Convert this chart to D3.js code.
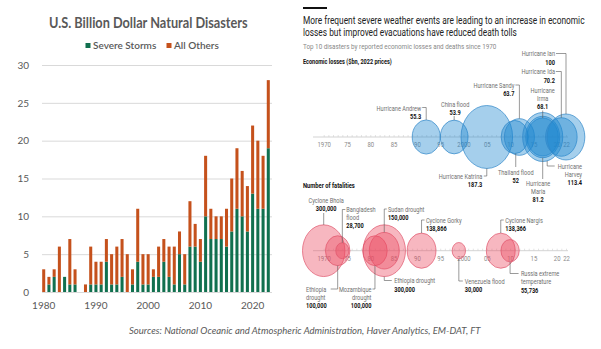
<!DOCTYPE html>
<html><head><meta charset="utf-8">
<script src="https://cdn.jsdelivr.net/npm/d3@7"></script>
<style>body{margin:0;background:#fff}svg{display:block}</style>
</head><body>
<svg id="c" width="601" height="349"></svg>
<script>
// ---------- Left chart data ----------
const years = [1980,1981,1982,1983,1984,1985,1986,1987,1988,1989,1990,1991,1992,1993,1994,1995,1996,1997,1998,1999,2000,2001,2002,2003,2004,2005,2006,2007,2008,2009,2010,2011,2012,2013,2014,2015,2016,2017,2018,2019,2020,2021,2022,2023];
const severeStorms = [0,1,2,0,2,1,1,0,0,1,1,1,4,1,1,2,0,1,4,1,1,2,2,4,2,1,5,1,6,6,4,10,7,7,7,6,8,11,10,8,13,11,11,19];
const allOthers    = [3,1,1,6,0,6,2,0,1,5,3,3,3,4,5,5,5,2,7,4,4,1,4,3,4,5,3,4,6,3,3,8,4,3,3,5,7,8,6,6,9,9,7,9];
const yTicks = [0,5,10,15,20,25,30];
const xTickYears = [1980,1990,2000,2010,2020];
const seriesNames = ["Severe Storms","All Others"];

// ---------- Right chart data ----------
const lossEvents = ["Hurricane Andrew","China flood","Hurricane Katrina","Thailand flood","Hurricane Sandy","Hurricane Irma","Hurricane Maria","Hurricane Harvey","Hurricane Ida","Hurricane Ian"];
const lossYears  = [1992,1998,2005,2011,2012,2017,2017,2017,2021,2022];
const lossValues = [55.3,53.9,187.3,52,63.7,68.1,81.2,113.4,70.2,100];

const fatalEvents = ["Cyclone Bhola","Ethiopia drought","Bangladesh flood","Mozambique drought","Sudan drought","Ethiopia drought","Cyclone Gorky","Venezuela flood","Cyclone Nargis","Russia extreme temperature"];
const fatalYears  = [1970,1973,1974,1981,1983,1983,1991,1999,2008,2010];
const fatalValues = [300000,100000,28700,100000,150000,300000,138866,30000,138366,55736];

const axisTickYears  = [1970,1975,1980,1985,1990,1995,2000,2005,2010,2015,2020,2022];
const axisTickLabels = ["1970","75","80","85","90","95","2000","05","10","15","20","22"];

const svg = d3.select("#c");
const GREEN = "#11704f", ORANGE = "#c5511c", GREY = "#595959";

// ================= LEFT CHART =================
const L = svg.append("g").attr("font-family","Lato, 'Open Sans', sans-serif");
const x = d3.scaleBand().domain(years).range([40,272]).padding(0.42);
const y = d3.scaleLinear().domain([0,30]).range([292,65]);

L.append("g").attr("transform","translate(42,0)")
  .call(d3.axisLeft(y).tickValues(yTicks).tickSize(-230).tickPadding(13))
  .call(g=>{g.select(".domain").remove();
    g.selectAll(".tick line").attr("stroke","#d9d9d9").attr("stroke-width",1);
    g.selectAll(".tick text").attr("fill",GREY).attr("font-size",10).attr("font-family","Lato, sans-serif");});

L.append("g").attr("transform","translate(0,292)")
  .call(d3.axisBottom(x).tickValues(xTickYears).tickSize(0).tickPadding(9.5))
  .call(g=>{g.select(".domain").remove();
    g.selectAll(".tick text").attr("fill",GREY).attr("font-size",10).attr("font-family","Lato, sans-serif");});

const table = years.map((yr,i)=>({year:yr, storms:severeStorms[i], others:allOthers[i]}));
const stack = d3.stack().keys(["storms","others"])(table);
const colors = [GREEN, ORANGE];
L.append("g").selectAll("g").data(stack).join("g").attr("fill",(d,i)=>colors[i])
  .selectAll("rect").data(d=>d).join("rect")
  .attr("x",d=>x(d.data.year)).attr("width",x.bandwidth())
  .attr("y",d=>y(d[1])).attr("height",d=>y(d[0])-y(d[1]));

// fit a text to a target width by horizontal scaling (keeps real bbox)
function fitText(sel, x0, y0, width){
  const w = sel.node().getComputedTextLength();
  sel.attr("x",0).attr("y",0).attr("transform",`translate(${x0},${y0}) scale(${width/w},1)`);
}

fitText(L.append("text").attr("font-size",14.5).attr("font-weight",700).attr("fill",GREY)
  .text("U.S. Billion Dollar Natural Disasters"), 49, 28, 199);

const leg = L.append("g");
const legX = [85.5,166.5];
seriesNames.forEach((n,i)=>{
  leg.append("rect").attr("x",legX[i]).attr("y",43).attr("width",5).attr("height",5).attr("fill",colors[i]);
  leg.append("text").attr("x",legX[i]+7.5).attr("y",49).attr("font-size",10).attr("fill",GREY)
    .attr("font-weight",600).text(n);
});

const src = svg.append("text").attr("text-anchor","start")
  .attr("font-family","Lato, sans-serif").attr("font-style","italic").attr("font-size",10).attr("fill",GREY)
  .text("Sources: National Oceanic and Atmospheric Administration, Haver Analytics, EM-DAT, FT");
fitText(src, 129, 334, 352);

// ================= RIGHT CHART =================
const R = svg.append("g").attr("font-family","Roboto, 'Open Sans', sans-serif");
R.append("rect").attr("x",303).attr("y",7).attr("width",24).attr("height",2).attr("fill","#111");
fitText(R.append("text").attr("font-size",11).attr("fill","#222")
  .text("More frequent severe weather events are leading to an increase in economic"), 303, 24, 282);
fitText(R.append("text").attr("font-size",11).attr("fill","#222")
  .text("losses but improved evacuations have reduced death tolls"), 303, 36, 214);
fitText(R.append("text").attr("font-size",7.5).attr("fill","#888")
  .text("Top 10 disasters by reported economic losses and deaths since 1970"), 303, 49, 194);
fitText(R.append("text").attr("font-size",6.8).attr("font-weight",700).attr("fill","#111")
  .text("Economic losses ($bn, 2022 prices)"), 303, 64, 89);
fitText(R.append("text").attr("font-size",6.8).attr("font-weight",700).attr("fill","#111")
  .text("Number of fatalities"), 303, 188, 52);

const xr = d3.scaleLinear().domain([1970,2022]).range([323.7,566]);
const AX1 = 137, AX2 = 250.7, STRETCH = 1.22;
const rLoss = d3.scaleSqrt().domain([0,187.3]).range([0,25.8]);
const rFat  = d3.scaleSqrt().domain([0,300000]).range([0,21.2]);

function drawAxis(yPos){
  const g = R.append("g").attr("transform",`translate(0,${yPos})`);
  g.append("line").attr("x1",313).attr("x2",568).attr("stroke","#c8c8c8").attr("stroke-width",0.8);
  g.append("g").call(d3.axisTop(xr).tickValues(d3.range(1970,2023)).tickSize(2).tickFormat(""))
    .call(a=>{a.select(".domain").remove(); a.selectAll("line").attr("stroke","#d0d0d0").attr("stroke-width",0.6);});
  g.append("g").call(d3.axisBottom(xr).tickValues(axisTickYears).tickSize(0).tickPadding(5)
      .tickFormat((d,i)=>axisTickLabels[i]))
    .call(a=>{a.select(".domain").remove();
      a.selectAll("text").attr("font-size",7).attr("fill","#8a8a8a").attr("font-family","Roboto, sans-serif");});
}
drawAxis(AX1); drawAxis(AX2);

// bubbles
R.append("g").selectAll("ellipse").data(lossValues).join("ellipse")
  .attr("cx",(d,i)=>xr(lossYears[i])).attr("cy",AX1)
  .attr("rx",d=>rLoss(d)).attr("ry",d=>rLoss(d)*STRETCH)
  .attr("fill","#1f87d0").attr("fill-opacity",0.4).attr("stroke","#2f86c8").attr("stroke-width",0.7);
R.append("g").selectAll("ellipse").data(fatalValues).join("ellipse")
  .attr("cx",(d,i)=>xr(fatalYears[i])).attr("cy",AX2)
  .attr("rx",d=>rFat(d)).attr("ry",d=>rFat(d)*STRETCH)
  .attr("fill","#ec4a62").attr("fill-opacity",0.4).attr("stroke","#e0556b").attr("stroke-width",0.7);

// annotation layout (label placement only)
const lossAnn = [
  {side:"t", ly:107.5, hx:-4, tx:-5, anchor:"end", lines:["Hurricane Andrew"], bl:[110.5,118.5]},
  {side:"t", ly:116, tx:1, anchor:"middle", lines:["China flood"], bl:[106.5,114.5]},
  {side:"b", ly:176, hx:-3, tx:-4.5, anchor:"end", lines:["Hurricane Katrina"], bl:[178.5,187]},
  {side:"b", ly:167, lx:1, tx:1, anchor:"middle", lines:["Thailand flood"], bl:[174.5,183]},
  {side:"t", ly:85, hx:-4, tx:-5, anchor:"end", lines:["Hurricane Sandy"], bl:[87.5,95.5]},
  {side:"t", ly:110.5, tx:0, anchor:"middle", lines:["Hurricane","Irma"], bl:[92.5,100.5,108.5]},
  {side:"b", ly:179, tx:-4.5, anchor:"middle", lines:["Hurricane","Maria"], bl:[185.5,193.5,202]},
  {side:"b", ly:166, lx:4.5, hx:12, tx:39.3, anchor:"end", lines:["Hurricane","Harvey"], bl:[168.5,176.5,185]},
  {side:"t", ly:71.5, hx:-5.5, tx:-6.4, anchor:"end", lines:["Hurricane Ida"], bl:[74,82.5]},
  {side:"t", ly:53.5, hx:-10, tx:-11, anchor:"end", lines:["Hurricane Ian"], bl:[56,64.5]}
];
const fatalAnn = [
  {side:"t", ly:213, tx:2.5, anchor:"middle", lines:["Cyclone Bhola"], bl:[202.5,211]},
  {side:"b", ly:289, hx:-7, tx:-31.7, anchor:"start", lines:["Ethiopia","drought"], bl:[291.5,299.5,308]},
  {side:"t", ly:209.5, hx:3, tx:4, anchor:"start", lines:["Bangladesh","flood"], bl:[212,219.5,228]},
  {side:"b", ly:289, hx:-2.5, tx:-3.5, anchor:"end", lines:["Mozambique","drought"], bl:[291.5,299.5,308]},
  {side:"t", ly:209, hx:2.5, tx:3.6, anchor:"start", lines:["Sudan drought"], bl:[211.5,219.5]},
  {side:"b", ly:280.5, hx:7.5, tx:10, anchor:"start", lines:["Ethiopia drought"], bl:[283,291.5]},
  {side:"t", ly:220, hx:3, tx:4.4, anchor:"start", lines:["Cyclone Gorky"], bl:[222.5,231]},
  {side:"b", ly:281, hx:4, tx:6, anchor:"start", lines:["Venezuela flood"], bl:[283.5,292]},
  {side:"t", ly:220, hx:3, tx:4.6, anchor:"start", lines:["Cyclone Nargis"], bl:[222.5,231]},
  {side:"b", ly:273.5, hx:8.5, tx:10.8, anchor:"start", lines:["Russia extreme","temperature"], bl:[276,284,292.5]}
];
const fmt = d3.format(",");
function annotate(ann, yrs, vals, rs, axY, valFmt){
  const g = R.append("g");
  ann.forEach((a,i)=>{
    const cx = xr(yrs[i]);
    const lx = cx + (a.lx||0);
    const rx = rs(vals[i]), ry = rx*STRETCH;
    const dxr = Math.min(1,Math.abs(a.lx||0)/rx);
    const edge = ry*Math.sqrt(1-dxr*dxr);
    const y0 = a.side==="t" ? axY-edge : axY+edge;
    let p = `M${lx},${y0}L${lx},${a.ly}`;
    if(a.hx!==undefined) p += `L${cx+a.hx},${a.ly}`;
    g.append("path").attr("d",p).attr("fill","none").attr("stroke","#555").attr("stroke-width",0.6);
    a.lines.forEach((t,j)=>{
      g.append("text").attr("class","lab").attr("x",cx+a.tx).attr("y",a.bl[j]).attr("text-anchor",a.anchor)
        .attr("font-size",7).attr("fill","#707070").text(t);
    });
    g.append("text").attr("class","lab").attr("x",cx+a.tx).attr("y",a.bl[a.lines.length]).attr("text-anchor",a.anchor)
      .attr("font-size",7).attr("font-weight",700).attr("fill","#111").text(valFmt(vals[i]));
  });
}
annotate(lossAnn, lossYears, lossValues, rLoss, AX1, d=>String(d));
annotate(fatalAnn, fatalYears, fatalValues, rFat, AX2, d=>fmt(d));

// narrow the FT-style labels (source graphic is horizontally compressed)
R.selectAll("text.lab").each(function(){
  const w = this.getComputedTextLength();
  d3.select(this).attr("textLength",w*0.8).attr("lengthAdjust","spacingAndGlyphs");
});
R.selectAll(".tick text").each(function(){
  const w = this.getComputedTextLength();
  d3.select(this).attr("textLength",w*0.85).attr("lengthAdjust","spacingAndGlyphs");
});
</script>
</body></html>
